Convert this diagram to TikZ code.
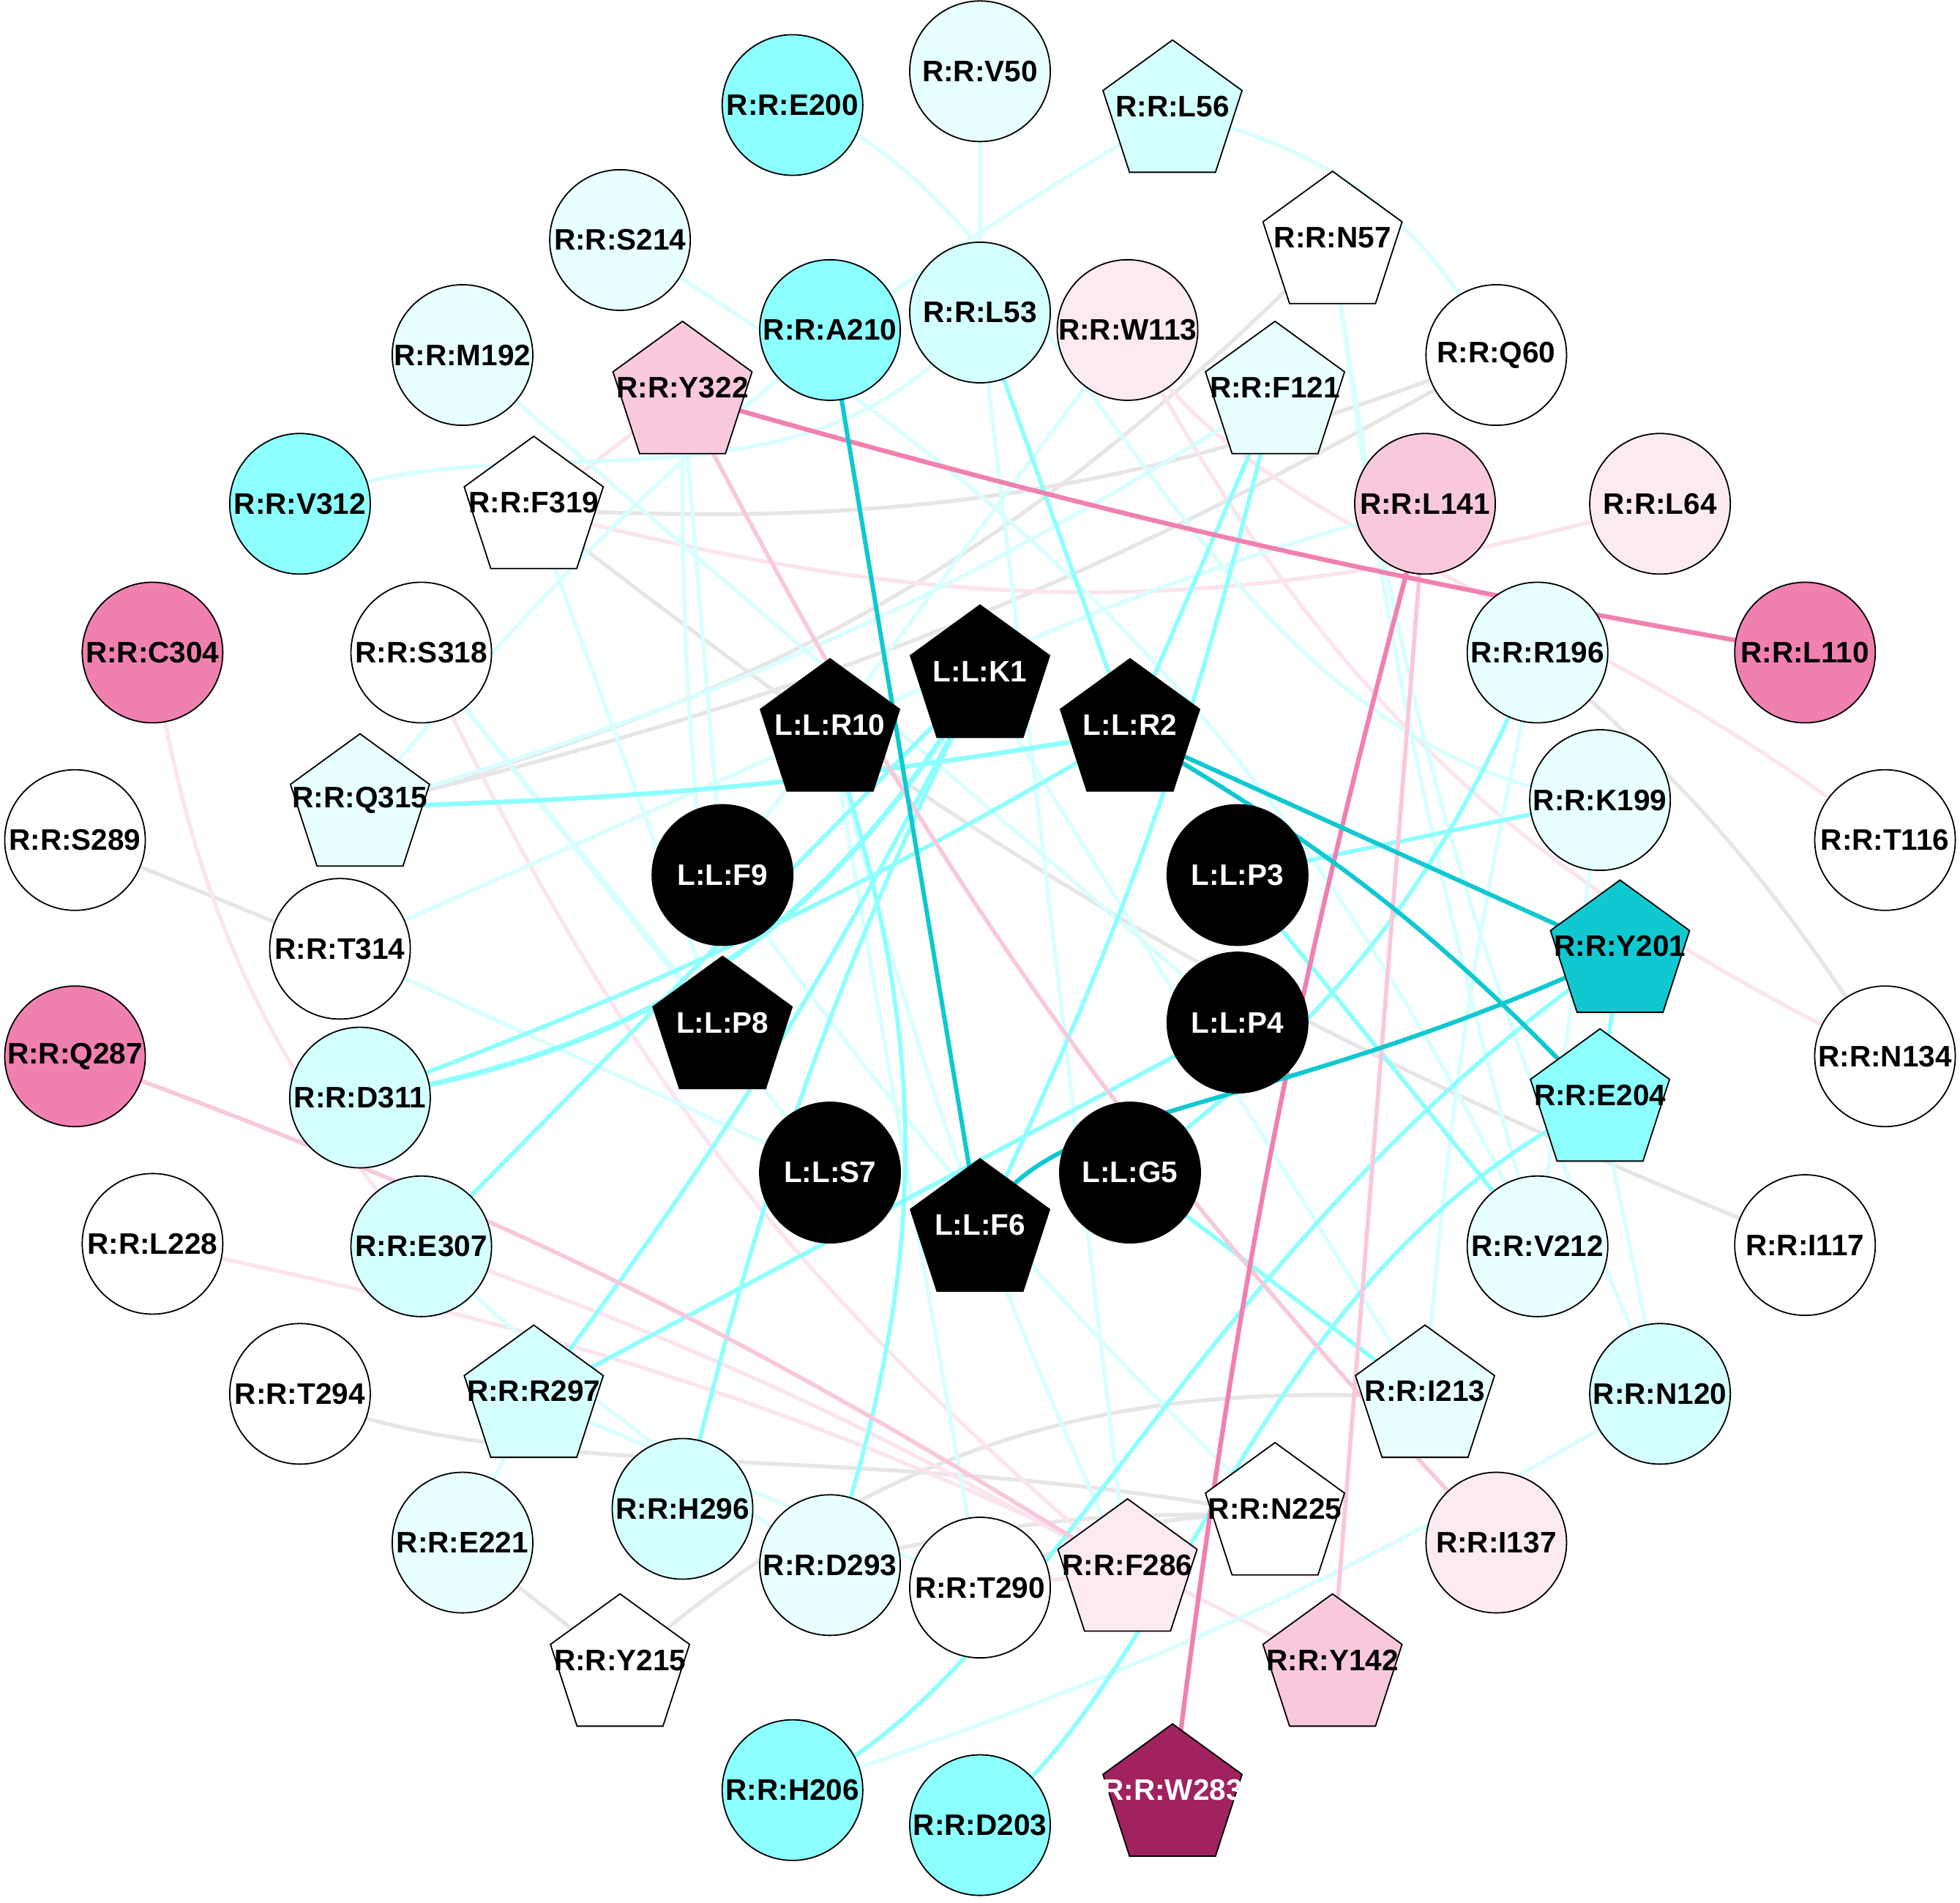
\documentclass[tikz,border=0pt]{standalone}
\usepackage{fontspec}
\setmainfont{Liberation Sans}
\usetikzlibrary{shapes.geometric,backgrounds}
\newcommand{\nodefnt}{\fontsize{13.5}{16}\selectfont\bfseries}
\definecolor{cC}{HTML}{8CFFFF}
\definecolor{cL}{HTML}{D4FFFF}
\definecolor{cV}{HTML}{E8FFFF}
\definecolor{cT}{HTML}{10C8D0}
\definecolor{pP}{HTML}{F8C8DC}
\definecolor{pL}{HTML}{FCEAF2}
\definecolor{pH}{HTML}{F080B0}
\definecolor{pM}{HTML}{A0225E}
\definecolor{eG}{HTML}{E6E6E6}
\definecolor{eLP}{HTML}{FCE4EE}
\definecolor{eLC}{HTML}{D8FFFF}
\tikzset{
  base/.style={draw=black, line width=0.6pt, inner sep=0pt},
  cir/.style={base, circle, minimum size=2.25cm},
  pen/.style={base, regular polygon, regular polygon sides=5, minimum size=2.34cm},
  lab/.style={font=\nodefnt, inner sep=0pt, text=black},
  wlab/.style={lab, text=white},
  plab/.style={lab, yshift=0.11cm},
  pwlab/.style={wlab, yshift=0.11cm},
  eg/.style={draw=eG, line width=1.8pt},
  elp/.style={draw=eLP, line width=1.8pt},
  ep/.style={draw=pP, line width=1.9pt},
  eh/.style={draw=pH, line width=2.1pt},
  elc/.style={draw=eLC, line width=1.8pt},
  ec/.style={draw=cC, line width=1.9pt},
  et/.style={draw=cT, line width=2.0pt}
}
\begin{document}
\begin{tikzpicture}[x=0.02cm,y=-0.02cm]
\useasboundingbox (0,0) rectangle (1568,1522);
% circles
\node[cir,fill=cC,label={[lab]center:{R:R:E200}}] (E200) at (634,84) {};
\node[cir,fill=cV,label={[lab]center:{R:R:V50}}] (V50) at (784,57) {};
\node[cir,fill=cV,label={[lab]center:{R:R:S214}}] (S214) at (496,192) {};
\node[cir,fill=cC,label={[lab]center:{R:R:A210}}] (A210) at (664,264) {};
\node[cir,fill=cL,label={[lab]center:{R:R:L53}}] (L53) at (784,250) {};
\node[cir,fill=pL,label={[lab]center:{R:R:W113}}] (W113) at (902,264) {};
\node[cir,fill=cV,label={[lab]center:{R:R:M192}}] (M192) at (370,284) {};
\node[cir,fill=white,label={[lab]center:{R:R:Q60}}] (Q60) at (1197,284) {};
\node[cir,fill=cC,label={[lab]center:{R:R:V312}}] (V312) at (240,403) {};
\node[cir,fill=pP,label={[lab]center:{R:R:L141}}] (L141) at (1140,403) {};
\node[cir,fill=pL,label={[lab]center:{R:R:L64}}] (L64) at (1328,403) {};
\node[cir,fill=pH,label={[lab]center:{R:R:C304}}] (C304) at (122,522) {};
\node[cir,fill=white,label={[lab]center:{R:R:S318}}] (S318) at (337,522) {};
\node[cir,fill=cV,label={[lab]center:{R:R:R196}}] (R196) at (1230,522) {};
\node[cir,fill=pH,label={[lab]center:{R:R:L110}}] (L110) at (1444,522) {};
\node[cir,fill=cV,label={[lab]center:{R:R:K199}}] (K199) at (1280,640) {};
\node[cir,fill=white,label={[lab]center:{R:R:S289}}] (S289) at (60,672) {};
\node[cir,fill=white,label={[lab]center:{R:R:T116}}] (T116) at (1508,672) {};
\node[cir,fill=black,label={[wlab]center:{L:L:F9}}] (F9) at (578,700) {};
\node[cir,fill=black,label={[wlab]center:{L:L:P3}}] (P3) at (990,700) {};
\node[cir,fill=white,label={[lab]center:{R:R:T314}}] (T314) at (272,759) {};
\node[cir,fill=black,label={[wlab]center:{L:L:P4}}] (P4) at (990,818) {};
\node[cir,fill=pH,label={[lab]center:{R:R:Q287}}] (Q287) at (60,845) {};
\node[cir,fill=white,label={[lab]center:{R:R:N134}}] (N134) at (1508,845) {};
\node[cir,fill=cL,label={[lab]center:{R:R:D311}}] (D311) at (288,878) {};
\node[cir,fill=black,label={[wlab]center:{L:L:S7}}] (S7) at (664,938) {};
\node[cir,fill=black,label={[wlab]center:{L:L:G5}}] (G5) at (904,938) {};
\node[cir,fill=white,label={[lab]center:{R:R:L228}}] (L228) at (122,995) {};
\node[cir,fill=cL,label={[lab]center:{R:R:E307}}] (E307) at (337,997) {};
\node[cir,fill=cV,label={[lab]center:{R:R:V212}}] (V212) at (1230,997) {};
\node[cir,fill=white,label={[lab]center:{R:R:I117}}] (I117) at (1444,996) {};
\node[cir,fill=white,label={[lab]center:{R:R:T294}}] (T294) at (240,1115) {};
\node[cir,fill=cL,label={[lab]center:{R:R:N120}}] (N120) at (1328,1115) {};
\node[cir,fill=cV,label={[lab]center:{R:R:E221}}] (E221) at (370,1234) {};
\node[cir,fill=cL,label={[lab]center:{R:R:H296}}] (H296) at (546,1207) {};
\node[cir,fill=pL,label={[lab]center:{R:R:I137}}] (I137) at (1197,1234) {};
\node[cir,fill=cV,label={[lab]center:{R:R:D293}}] (D293) at (664,1252) {};
\node[cir,fill=white,label={[lab]center:{R:R:T290}}] (T290) at (784,1270) {};
\node[cir,fill=cC,label={[lab]center:{R:R:H206}}] (H206) at (634,1432) {};
\node[cir,fill=cC,label={[lab]center:{R:R:D203}}] (D203) at (784,1460) {};
% pentagons
\node[pen,fill=cL,label={[plab]center:{R:R:L56}}] (L56) at (938,90.5) {};
\node[pen,fill=white,label={[plab]center:{R:R:N57}}] (N57) at (1066,195.5) {};
\node[pen,fill=pP,label={[plab]center:{R:R:Y322}}] (Y322) at (546,315.5) {};
\node[pen,fill=cV,label={[plab]center:{R:R:F121}}] (F121) at (1020,315.5) {};
\node[pen,fill=white,label={[plab]center:{R:R:F319}}] (F319) at (427,407.5) {};
\node[pen,fill=black,label={[pwlab]center:{L:L:K1}}] (K1) at (784,542.5) {};
\node[pen,fill=black,label={[pwlab]center:{L:L:R10}}] (R10) at (664,585.5) {};
\node[pen,fill=black,label={[pwlab]center:{L:L:R2}}] (R2) at (904,585.5) {};
\node[pen,fill=cV,label={[plab]center:{R:R:Q315}}] (Q315) at (288,645.5) {};
\node[pen,fill=cT,label={[plab]center:{R:R:Y201}}] (Y201) at (1296,762.5) {};
\node[pen,fill=black,label={[pwlab]center:{L:L:P8}}] (P8) at (578,823.5) {};
\node[pen,fill=cC,label={[plab]center:{R:R:E204}}] (E204) at (1280,881.5) {};
\node[pen,fill=black,label={[pwlab]center:{L:L:F6}}] (F6) at (784,985.5) {};
\node[pen,fill=cL,label={[plab]center:{R:R:R297}}] (R297) at (427,1118.5) {};
\node[pen,fill=cV,label={[plab]center:{R:R:I213}}] (I213) at (1140,1118.5) {};
\node[pen,fill=white,label={[plab]center:{R:R:N225}}] (N225) at (1020,1212.5) {};
\node[pen,fill=pL,label={[plab]center:{R:R:F286}}] (F286) at (902,1257.5) {};
\node[pen,fill=white,label={[plab]center:{R:R:Y215}}] (Y215) at (496,1333.5) {};
\node[pen,fill=pP,label={[plab]center:{R:R:Y142}}] (Y142) at (1066,1333.5) {};
\node[pen,fill=pM,label={[pwlab]center:{R:R:W283}}] (W283) at (938,1437.5) {};
\begin{pgfonlayer}{background}
% gray
\draw[eg] (Q315.center) to[bend right=15] (N57.center);
\draw[eg] (Q315.center) to[bend right=8] (Q60.center);
\draw[eg] (F319.center) to[bend right=12] (Q60.center);
\draw[eg] (F319.center) to[bend right=8] (I117.center);
\draw[eg] (S289.center) -- (T314.center);
\draw[eg] (R196.center) to[bend left=8] (N134.center);
\draw[eg] (T294.center) .. controls (400,1190) and (700,1150) .. (N225.center);
\draw[eg] (E221.center) -- (Y215.center);
\draw[eg] (Y215.center) to[bend left=22] (I213.center);
\draw[eg] (D293.center) to[bend left=8] (N225.center);
\draw[eg] (T290.center) to[bend left=15] (N225.center);
% light pink
\draw[elp] (C304.center) to[bend right=15] (E307.center);
\draw[elp] (F319.center) -- (Y322.center);
\draw[elp] (F319.center) to[bend right=15] (L64.center);
\draw[elp] (W113.center) to[bend right=18] (N134.center);
\draw[elp] (W113.center) .. controls (1000,430) and (1250,470) .. (T116.center);
\draw[elp] (S318.center) to[bend right=12] (F286.center);
\draw[elp] (L228.center) to[bend left=8] (Y142.center);
\draw[elp] (E307.center) to[bend left=5] (F286.center);
\draw[elp] (T290.center) -- (F286.center);
% light cyan
\draw[elc] (V50.center) -- (L53.center);
\draw[elc] (E200.center) .. controls (850,150) and (950,600) .. (K199.center);
\draw[elc] (L56.center) to[bend left=25] (Q60.center);
\draw[elc] (L56.center) to[bend right=10] (Q315.center);
\draw[elc] (V312.center) .. controls (400,330) and (650,430) .. (L53.center);
\draw[elc] (M192.center) -- (P4.center);
\draw[elc] (S214.center) to[bend left=16] (V212.center);
\draw[elc] (W113.center) -- (F9.center);
\draw[elc] (F121.center) to[bend left=8] (Q315.center);
\draw[elc] (Y322.center) to[bend right=4] (P8.center);
\draw[elc] (Y322.center) -- (F9.center);
\draw[elc] (F319.center) -- (P8.center);
\draw[elc] (S318.center) -- (P8.center);
\draw[elc] (S318.center) -- (S7.center);
\draw[elc] (T314.center) -- (R10.center);
\draw[elc] (R10.center) to[bend left=5] (L141.center);
\draw[elc] (T314.center) -- (S7.center);
\draw[elc] (R10.center) -- (T290.center);
\draw[elc] (R10.center) to[bend right=5] (F286.center);
\draw[elc] (F9.center) to[bend right=5] (N225.center);
\draw[elc] (L53.center) -- (F286.center);
\draw[elc] (K1.center) -- (I213.center);
\draw[elc] (E307.center) to[bend right=5] (D293.center);
\draw[elc] (E221.center) -- (R297.center);
\draw[elc] (R297.center) -- (T290.center);
\draw[elc] (N57.center) to[bend right=8] (N120.center);
\draw[elc] (N57.center) to[bend right=4] (V212.center);
\draw[elc] (E204.center) -- (N120.center);
\draw[elc] (N120.center) to[bend left=6] (H206.center);
\draw[elc] (R196.center) to[bend right=4] (I213.center);
\draw[elc] (K199.center) -- (V212.center);
% cyan
\draw[ec] (L53.center) -- (R2.center);
\draw[ec] (F121.center) -- (R2.center);
\draw[ec] (F121.center) to[bend left=6] (F6.center);
\draw[ec,line width=2.1pt] (R2.center) to[bend left=4] (Q315.center);
\draw[ec] (R2.center) to[bend left=5] (D311.center);
\draw[ec,line width=2.4pt] (K1.center) to[bend left=25] (D311.center);
\draw[ec] (K1.center) -- (E307.center);
\draw[ec] (K1.center) to[bend left=5] (R297.center);
\draw[ec] (K1.center) to[bend right=6] (H296.center);
\draw[ec] (R10.center) to[bend left=18] (D293.center);
\draw[ec] (P3.center) -- (K199.center);
\draw[ec] (P3.center) -- (V212.center);
\draw[ec] (P4.center) -- (R297.center);
\draw[ec] (G5.center) -- (I213.center);
\draw[ec] (R196.center) to[bend left=15] (G5.center);
\draw[ec] (Y201.center) -- (E204.center);
\draw[ec] (Y201.center) .. controls (950,1000) and (830,1350) .. (H206.center);
\draw[ec] (E204.center) .. controls (1000,1020) and (950,1330) .. (D203.center);
% pink
\draw[ep] (Y322.center) to[bend right=8] (I137.center);
\draw[ep] (Y142.center) -- (L141.center);
\draw[ep] (Q287.center) to[bend left=6] (F286.center);
% hot pink
\draw[eh] (Y322.center) to[bend right=3] (L110.center);
\draw[eh] (W283.center) to[bend left=4] (L141.center);
% teal
\draw[et] (A210.center) -- (F6.center);
\draw[et] (R2.center) -- (Y201.center);
\draw[et] (R2.center) to[bend left=8] (E204.center);
\draw[et] (F6.center) .. controls (830,880) and (1000,900) .. (Y201.center);
\end{pgfonlayer}
\end{tikzpicture}
\end{document}
